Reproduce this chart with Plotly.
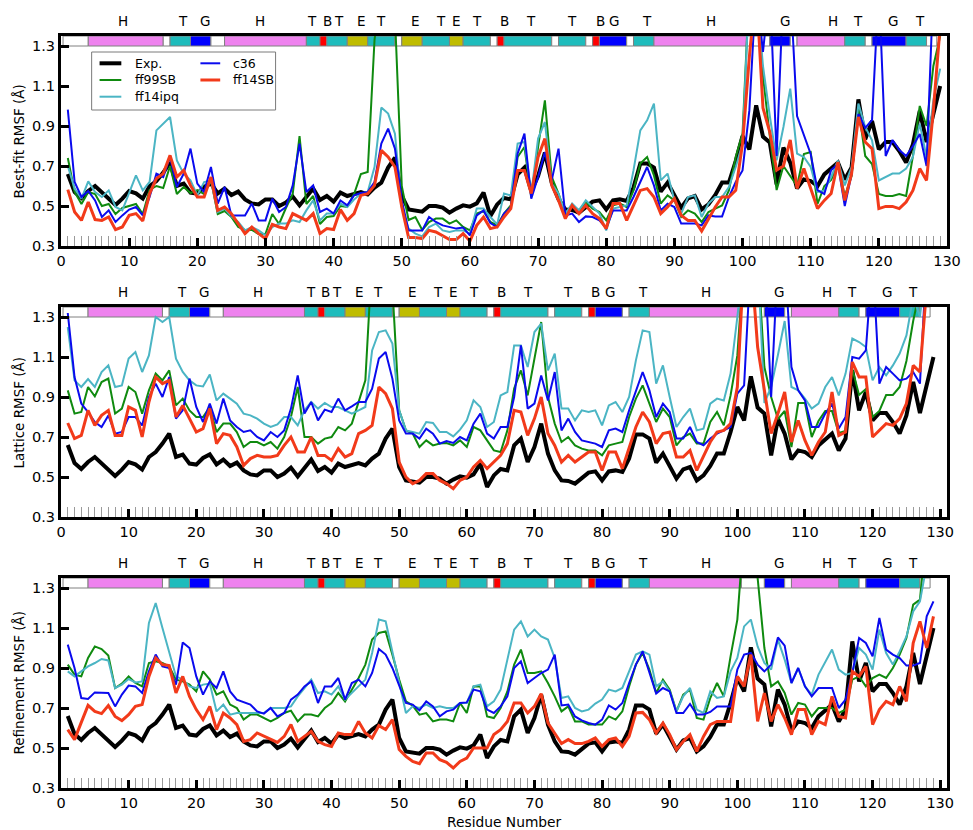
import plotly.graph_objects as go

# ---------------- data ----------------
residues = list(range(1, 130))

exp_rmsf = [0.66, 0.57, 0.54, 0.575, 0.60, 0.567, 0.54, 0.505, 0.537, 0.575,
            0.563, 0.537, 0.60, 0.625, 0.667, 0.717, 0.60, 0.612, 0.567, 0.562,
            0.595, 0.613, 0.563, 0.587, 0.555, 0.572, 0.533, 0.513, 0.508, 0.533,
            0.533, 0.50, 0.517, 0.547, 0.503, 0.547, 0.587, 0.53, 0.55, 0.522,
            0.567, 0.55, 0.558, 0.57, 0.558, 0.592, 0.617, 0.692, 0.742, 0.55,
            0.483, 0.475, 0.472, 0.50, 0.50, 0.492, 0.467, 0.487, 0.503, 0.497,
            0.513, 0.567, 0.45, 0.508, 0.54, 0.533, 0.658, 0.692, 0.575, 0.65,
            0.767, 0.617, 0.533, 0.483, 0.48, 0.467, 0.492, 0.522, 0.528, 0.483,
            0.528, 0.533, 0.525, 0.592, 0.713, 0.713, 0.692, 0.572, 0.617, 0.55,
            0.492, 0.538, 0.55, 0.483, 0.508, 0.555, 0.617, 0.617, 0.725, 0.85,
            0.783, 1.003, 0.847, 0.817, 0.608, 0.792, 0.717, 0.588, 0.633, 0.625,
            0.60, 0.658, 0.687, 0.717, 0.633, 0.692, 1.033, 0.833, 0.925, 0.783,
            0.82, 0.82, 0.775, 0.717, 0.808, 0.975, 0.82, 0.96, 1.10]

# Best-fit RMSF
bf_ff99sb = [0.74, 0.57, 0.51, 0.57, 0.56, 0.50, 0.51, 0.46, 0.49, 0.50,
             0.51, 0.46, 0.58, 0.60, 0.59, 0.70, 0.56, 0.595, 0.565, 0.58,
             0.56, 0.63, 0.46, 0.475, 0.445, 0.395, 0.38, 0.38, 0.36, 0.36,
             0.46, 0.41, 0.49, 0.56, 0.85, 0.51, 0.55, 0.41, 0.445, 0.45,
             0.50, 0.495, 0.56, 0.66, 0.67, 1.33, 1.6, 1.6, 1.45, 0.60,
             0.43, 0.445, 0.38, 0.42, 0.437, 0.437, 0.412, 0.428, 0.395, 0.378,
             0.462, 0.475, 0.42, 0.403, 0.462, 0.503, 0.745, 0.795, 0.545, 0.795,
             1.028, 0.645, 0.562, 0.462, 0.503, 0.478, 0.52, 0.487, 0.47, 0.428,
             0.503, 0.512, 0.495, 0.578, 0.712, 0.745, 0.653, 0.512, 0.553, 0.528,
             0.445, 0.478, 0.462, 0.42, 0.47, 0.487, 0.503, 0.578, 0.745, 0.862,
             1.6, 1.6, 1.15, 0.85, 0.58, 0.70, 0.65, 0.60, 0.76, 0.77,
             0.51, 0.60, 0.63, 0.71, 0.55, 0.65, 0.99, 0.75, 0.71, 0.56,
             0.55, 0.55, 0.56, 0.55, 0.75, 1.00, 0.90, 1.20, 1.35]
bf_ff14ipq = [0.70, 0.587, 0.537, 0.623, 0.57, 0.545, 0.578, 0.495, 0.478, 0.562,
              0.653, 0.578, 0.62, 0.878, 0.912, 0.945, 0.728, 0.662, 0.628, 0.553,
              0.62, 0.628, 0.47, 0.487, 0.448, 0.42, 0.378, 0.395, 0.378, 0.353,
              0.395, 0.412, 0.412, 0.428, 0.42, 0.478, 0.528, 0.428, 0.462, 0.462,
              0.512, 0.495, 0.532, 0.562, 0.57, 0.695, 0.992, 0.962, 0.862, 0.495,
              0.387, 0.362, 0.348, 0.395, 0.412, 0.378, 0.37, 0.378, 0.378, 0.362,
              0.487, 0.487, 0.445, 0.408, 0.562, 0.553, 0.812, 0.82, 0.562, 0.837,
              0.92, 0.612, 0.562, 0.462, 0.512, 0.478, 0.528, 0.495, 0.462, 0.378,
              0.487, 0.495, 0.503, 0.678, 0.878, 0.928, 1.012, 0.628, 0.662, 0.528,
              0.462, 0.545, 0.553, 0.445, 0.512, 0.545, 0.545, 0.595, 0.695, 0.812,
              1.6, 1.6, 1.2, 0.95, 0.728, 0.895, 1.087, 0.762, 0.745, 0.695,
              0.57, 0.578, 0.645, 0.728, 0.603, 0.695, 1.012, 0.895, 0.828, 0.628,
              0.645, 0.662, 0.662, 0.687, 0.745, 0.912, 0.745, 1.028, 1.187]
bf_c36 = [0.982, 0.62, 0.545, 0.575, 0.528, 0.445, 0.478, 0.42, 0.453, 0.482,
          0.495, 0.453, 0.545, 0.662, 0.645, 0.745, 0.595, 0.662, 0.787, 0.612,
          0.57, 0.695, 0.512, 0.595, 0.453, 0.453, 0.453, 0.512, 0.428, 0.428,
          0.537, 0.47, 0.495, 0.603, 0.812, 0.57, 0.603, 0.47, 0.487, 0.462,
          0.528, 0.503, 0.553, 0.565, 0.57, 0.62, 0.812, 0.887, 0.787, 0.528,
          0.378, 0.378, 0.378, 0.445, 0.42, 0.403, 0.395, 0.387, 0.392, 0.353,
          0.453, 0.478, 0.415, 0.395, 0.462, 0.495, 0.762, 0.862, 0.537, 0.645,
          0.77, 0.628, 0.787, 0.453, 0.462, 0.42, 0.448, 0.445, 0.428, 0.39,
          0.478, 0.478, 0.478, 0.545, 0.62, 0.695, 0.603, 0.478, 0.512, 0.495,
          0.412, 0.412, 0.412, 0.403, 0.453, 0.448, 0.448, 0.545, 0.62, 0.678,
          0.978, 1.6, 1.27, 1.6, 0.75, 1.6, 1.6, 0.95, 0.86, 0.76,
          0.58, 0.56, 0.68, 0.71, 0.50, 0.66, 0.96, 0.89, 0.93, 1.6,
          0.75, 0.83, 0.78, 0.75, 0.80, 0.86, 0.70, 1.6, 1.6]
bf_ff14sb = [0.582, 0.47, 0.428, 0.52, 0.432, 0.428, 0.445, 0.382, 0.395, 0.453,
             0.462, 0.425, 0.562, 0.637, 0.662, 0.753, 0.645, 0.678, 0.603, 0.545,
             0.545, 0.645, 0.478, 0.495, 0.462, 0.412, 0.362, 0.395, 0.362, 0.337,
             0.408, 0.395, 0.387, 0.462, 0.445, 0.428, 0.462, 0.362, 0.387, 0.382,
             0.482, 0.428, 0.462, 0.553, 0.562, 0.603, 0.778, 0.745, 0.695, 0.495,
             0.342, 0.342, 0.337, 0.378, 0.37, 0.353, 0.332, 0.332, 0.362, 0.325,
             0.403, 0.445, 0.387, 0.395, 0.445, 0.487, 0.678, 0.678, 0.562, 0.745,
             0.837, 0.603, 0.528, 0.437, 0.503, 0.462, 0.503, 0.462, 0.437, 0.387,
             0.512, 0.512, 0.428, 0.503, 0.578, 0.587, 0.545, 0.462, 0.495, 0.537,
             0.453, 0.428, 0.428, 0.375, 0.437, 0.495, 0.545, 0.545, 0.578, 0.812,
             1.245, 1.6, 0.99, 0.87, 0.68, 0.70, 0.83, 0.587, 0.687, 0.587,
             0.487, 0.528, 0.562, 0.72, 0.528, 0.662, 0.945, 0.82, 0.787, 0.487,
             0.498, 0.498, 0.487, 0.52, 0.578, 0.687, 0.628, 0.978, 1.4]

# Lattice RMSF
lat_ff99sb = [0.933, 0.817, 0.825, 0.95, 0.903, 0.975, 0.992, 0.817, 0.842, 0.95,
              0.925, 0.817, 0.933, 1.017, 0.983, 1.033, 0.858, 0.892, 0.833, 0.80,
              0.80, 0.85, 0.725, 0.767, 0.767, 0.725, 0.65, 0.675, 0.675, 0.658,
              0.675, 0.642, 0.70, 0.80, 0.95, 0.70, 0.70, 0.667, 0.692, 0.70,
              0.75, 0.733, 0.767, 0.875, 0.983, 1.6, 1.6, 1.6, 1.45, 0.833,
              0.733, 0.717, 0.65, 0.683, 0.658, 0.667, 0.67, 0.658, 0.683, 0.65,
              0.75, 0.733, 0.683, 0.633, 0.625, 0.733, 0.942, 1.033, 0.908, 1.10,
              1.275, 0.90, 0.767, 0.675, 0.70, 0.658, 0.642, 0.633, 0.633, 0.608,
              0.658, 0.667, 0.675, 0.80, 0.892, 0.958, 0.867, 0.775, 0.842, 0.80,
              0.658, 0.70, 0.717, 0.667, 0.667, 0.775, 0.825, 0.758, 0.908, 1.108,
              1.6, 1.6, 1.6, 1.05, 0.90, 0.79, 0.83, 0.65, 0.87, 0.87,
              0.70, 0.78, 0.83, 0.83, 0.72, 0.73, 1.04, 0.91, 0.94, 0.80,
              0.83, 0.91, 0.91, 0.95, 1.08, 1.28, 1.45, 1.6, 1.6]
lat_ff14ipq = [1.25, 0.983, 0.95, 0.99, 0.95, 1.025, 1.058, 0.95, 0.958, 1.092,
               1.125, 1.025, 1.108, 1.30, 1.275, 1.30, 1.092, 1.025, 0.983, 0.958,
               0.953, 1.013, 0.883, 0.917, 0.892, 0.867, 0.817, 0.808, 0.792, 0.767,
               0.75, 0.763, 0.80, 0.80, 0.758, 0.833, 0.875, 0.842, 0.87, 0.85,
               0.85, 0.833, 0.817, 0.833, 0.85, 1.133, 1.225, 1.233, 1.167, 0.833,
               0.733, 0.725, 0.717, 0.775, 0.77, 0.725, 0.725, 0.703, 0.737, 0.783,
               0.883, 0.85, 0.75, 0.775, 0.908, 0.925, 1.158, 1.158, 1.05, 1.225,
               1.267, 1.033, 1.117, 0.842, 0.842, 0.783, 0.833, 0.825, 0.833, 0.758,
               0.858, 0.875, 0.825, 0.90, 1.083, 1.233, 1.225, 0.967, 1.058, 0.90,
               0.75, 0.80, 0.842, 0.733, 0.742, 0.867, 0.892, 0.883, 1.017, 1.30,
               1.6, 1.6, 1.6, 0.87, 0.95, 1.11, 1.28, 0.95, 0.933, 0.892,
               0.842, 0.867, 0.95, 1.0, 0.908, 1.017, 1.192, 1.175, 1.15, 0.983,
               1.05, 1.008, 1.058, 1.117, 1.208, 1.4, 1.30, 1.6, 1.6]
lat_c36 = [1.32, 1.0, 0.867, 0.825, 0.775, 0.75, 0.808, 0.717, 0.725, 0.80,
           0.80, 0.758, 0.90, 0.967, 0.90, 1.0, 0.792, 0.833, 0.992, 0.85,
           0.775, 0.867, 0.767, 0.892, 0.783, 0.75, 0.725, 0.733, 0.70, 0.683,
           0.725, 0.70, 0.733, 0.842, 1.008, 0.817, 0.875, 0.783, 0.837, 0.825,
           0.892, 0.833, 0.853, 0.875, 0.875, 0.942, 1.092, 1.125, 0.992, 0.783,
           0.717, 0.717, 0.692, 0.742, 0.717, 0.667, 0.68, 0.67, 0.70, 0.683,
           0.767, 0.817, 0.717, 0.692, 0.75, 0.75, 0.90, 1.158, 0.842, 0.867,
           1.008, 0.883, 1.025, 0.733, 0.792, 0.725, 0.683, 0.675, 0.667, 0.65,
           0.733, 0.742, 0.725, 0.833, 0.925, 1.025, 0.933, 0.80, 0.867, 0.825,
           0.692, 0.692, 0.75, 0.675, 0.658, 0.692, 0.717, 0.733, 0.75, 0.917,
           0.958, 1.6, 1.6, 1.6, 0.90, 1.6, 1.6, 1.05, 0.933, 0.883,
           0.75, 0.75, 0.817, 0.867, 0.742, 0.80, 1.10, 1.092, 1.133, 1.6,
           0.967, 1.05, 1.017, 0.983, 0.992, 1.025, 0.967, 1.6, 1.6]
lat_ff14sb = [0.77, 0.692, 0.708, 0.833, 0.758, 0.808, 0.833, 0.708, 0.708, 0.85,
              0.833, 0.70, 0.875, 1.0, 0.967, 0.983, 0.80, 0.858, 0.792, 0.725,
              0.742, 0.842, 0.667, 0.717, 0.708, 0.65, 0.558, 0.592, 0.608, 0.60,
              0.60, 0.608, 0.658, 0.70, 0.625, 0.625, 0.70, 0.608, 0.608, 0.583,
              0.642, 0.60, 0.617, 0.717, 0.733, 0.758, 0.95, 0.917, 0.842, 0.575,
              0.50, 0.467, 0.483, 0.517, 0.517, 0.483, 0.467, 0.442, 0.483, 0.50,
              0.55, 0.583, 0.542, 0.575, 0.608, 0.667, 0.833, 0.825, 0.708, 0.792,
              0.90, 0.717, 0.658, 0.575, 0.608, 0.575, 0.60, 0.625, 0.625, 0.533,
              0.625, 0.625, 0.542, 0.65, 0.75, 0.825, 0.775, 0.667, 0.717, 0.725,
              0.60, 0.60, 0.633, 0.533, 0.60, 0.675, 0.725, 0.733, 0.767, 0.95,
              1.6, 1.6, 1.15, 0.94, 0.717, 0.817, 0.925, 0.675, 0.783, 0.683,
              0.608, 0.675, 0.725, 0.925, 0.708, 0.725, 1.075, 1.0, 1.0, 0.70,
              0.733, 0.767, 0.758, 0.792, 0.867, 1.058, 1.025, 1.45, 1.6]

# Refinement RMSF
ref_ff99sb = [0.917, 0.867, 0.858, 0.95, 1.008, 0.995, 0.962, 0.80, 0.822, 0.858,
              0.825, 0.808, 0.925, 0.933, 0.925, 0.908, 0.842, 0.833, 0.817, 0.783,
              0.883, 0.842, 0.767, 0.783, 0.717, 0.70, 0.642, 0.667, 0.667, 0.65,
              0.633, 0.65, 0.675, 0.687, 0.633, 0.667, 0.667, 0.658, 0.70, 0.725,
              0.775, 0.733, 0.792, 0.85, 0.917, 1.042, 1.075, 1.083, 0.967, 0.842,
              0.733, 0.712, 0.667, 0.675, 0.633, 0.642, 0.642, 0.633, 0.725, 0.675,
              0.808, 0.808, 0.658, 0.65, 0.70, 0.783, 0.917, 0.992, 0.875, 0.875,
              0.883, 0.825, 0.758, 0.683, 0.708, 0.633, 0.633, 0.617, 0.617, 0.617,
              0.658, 0.642, 0.683, 0.808, 0.917, 0.975, 0.892, 0.775, 0.842, 0.792,
              0.683, 0.767, 0.792, 0.65, 0.642, 0.75, 0.825, 0.758, 0.958, 1.142,
              1.6, 1.6, 1.35, 1.0, 0.808, 0.833, 0.775, 0.667, 0.725, 0.717,
              0.658, 0.70, 0.70, 0.70, 0.675, 0.692, 0.842, 0.858, 0.808, 0.85,
              0.867, 0.85, 0.90, 0.967, 1.05, 1.217, 1.242, 1.6, 1.6]
ref_ff14ipq = [0.883, 0.858, 0.883, 0.908, 0.925, 0.945, 0.938, 0.80, 0.817, 0.845,
               0.828, 0.833, 1.125, 1.225, 1.10, 0.975, 0.858, 0.842, 0.808, 0.80,
               0.817, 0.822, 0.683, 0.717, 0.667, 0.675, 0.675, 0.675, 0.675, 0.675,
               0.70, 0.70, 0.70, 0.708, 0.758, 0.80, 0.842, 0.775, 0.783, 0.767,
               0.808, 0.742, 0.775, 0.808, 0.842, 0.975, 1.142, 1.133, 0.983, 0.842,
               0.675, 0.708, 0.70, 0.717, 0.70, 0.708, 0.70, 0.70, 0.725, 0.725,
               0.808, 0.817, 0.708, 0.733, 0.792, 0.942, 1.092, 1.133, 1.058, 1.092,
               1.058, 1.042, 0.95, 0.75, 0.758, 0.70, 0.683, 0.692, 0.722, 0.742,
               0.792, 0.783, 0.80, 0.883, 0.967, 0.983, 0.967, 0.808, 0.833, 0.783,
               0.683, 0.758, 0.80, 0.692, 0.675, 0.783, 0.75, 0.758, 0.883, 0.95,
               1.108, 1.142, 1.008, 0.925, 0.892, 1.042, 0.942, 0.825, 0.90, 0.808,
               0.767, 0.867, 0.933, 0.992, 0.892, 0.867, 0.875, 1.0, 0.967, 0.892,
               1.092, 0.975, 0.917, 0.983, 1.058, 1.183, 1.233, 1.4, 1.6]
ref_c36 = [1.017, 0.90, 0.75, 0.745, 0.778, 0.778, 0.775, 0.708, 0.767, 0.812,
           0.808, 0.775, 0.883, 0.967, 0.908, 0.90, 0.817, 1.028, 1.0, 0.858,
           0.767, 0.833, 0.80, 0.883, 0.783, 0.742, 0.73, 0.717, 0.683, 0.672,
           0.70, 0.658, 0.675, 0.742, 0.767, 0.808, 0.833, 0.725, 0.808, 0.808,
           0.85, 0.742, 0.825, 0.842, 0.808, 0.875, 0.995, 0.967, 0.90, 0.808,
           0.725, 0.717, 0.688, 0.733, 0.708, 0.658, 0.683, 0.692, 0.725, 0.728,
           0.792, 0.783, 0.692, 0.675, 0.708, 0.758, 0.90, 0.933, 0.825, 0.85,
           0.875, 0.892, 0.967, 0.713, 0.717, 0.658, 0.638, 0.625, 0.617, 0.642,
           0.713, 0.692, 0.725, 0.825, 0.917, 0.983, 0.875, 0.772, 0.80, 0.783,
           0.675, 0.675, 0.72, 0.667, 0.667, 0.68, 0.708, 0.708, 0.708, 0.892,
           0.967, 0.975, 0.917, 0.883, 0.917, 1.053, 1.012, 0.825, 0.90, 0.808,
           0.758, 0.80, 0.80, 0.80, 0.70, 0.742, 0.875, 1.05, 1.025, 0.958,
           1.15, 0.992, 0.967, 0.95, 0.912, 0.912, 0.925, 1.158, 1.233]
ref_ff14sb = [0.592, 0.542, 0.628, 0.713, 0.683, 0.672, 0.712, 0.658, 0.637, 0.667,
              0.708, 0.717, 0.858, 0.95, 0.917, 0.912, 0.775, 0.858, 0.758, 0.692,
              0.642, 0.708, 0.592, 0.675, 0.65, 0.617, 0.533, 0.542, 0.575, 0.558,
              0.545, 0.528, 0.558, 0.617, 0.533, 0.558, 0.583, 0.533, 0.517, 0.508,
              0.575, 0.567, 0.567, 0.633, 0.575, 0.55, 0.612, 0.592, 0.642, 0.492,
              0.458, 0.433, 0.422, 0.475, 0.475, 0.442, 0.428, 0.40, 0.433, 0.45,
              0.50, 0.50, 0.50, 0.567, 0.592, 0.633, 0.725, 0.725, 0.675, 0.708,
              0.772, 0.625, 0.575, 0.522, 0.542, 0.522, 0.522, 0.533, 0.55, 0.508,
              0.542, 0.55, 0.508, 0.558, 0.675, 0.678, 0.642, 0.575, 0.625, 0.567,
              0.492, 0.533, 0.567, 0.483, 0.558, 0.617, 0.633, 0.633, 0.633, 0.858,
              0.808, 0.967, 0.633, 0.775, 0.633, 0.717, 0.65, 0.567, 0.692, 0.692,
              0.567, 0.633, 0.617, 0.758, 0.658, 0.65, 0.883, 0.858, 0.908, 0.617,
              0.692, 0.733, 0.717, 0.808, 0.733, 1.025, 1.133, 1.0, 1.158]

series_names = ["Exp.", "ff99SB", "ff14ipq", "c36", "ff14SB"]
panel_titles = ["Best-fit RMSF (Å)", "Lattice RMSF (Å)", "Refinement RMSF (Å)"]
panel_series = [
    [exp_rmsf, bf_ff99sb, bf_ff14ipq, bf_c36, bf_ff14sb],
    [exp_rmsf, lat_ff99sb, lat_ff14ipq, lat_c36, lat_ff14sb],
    [exp_rmsf, ref_ff99sb, ref_ff14ipq, ref_c36, ref_ff14sb],
]

# secondary structure (DSSP) segments along the residue axis
ss_code = ["C", "H", "C", "T", "G", "C", "H", "T", "B", "T", "E", "T", "C", "E", "T", "E",
           "T", "C", "B", "T", "C", "T", "C", "B", "G", "C", "T", "H", "C", "G", "C", "H",
           "T", "C", "G", "T", "C"]
ss_start = [0.3, 4, 15, 16, 19, 22, 24, 36, 38, 39, 42, 45, 49, 50, 53, 57,
            59, 63, 64, 65, 72, 73, 77, 78, 79, 83, 84, 87, 100.6, 104, 107, 108,
            115, 118, 119, 124, 127]
ss_end = [4, 15, 16, 19, 22, 24, 36, 38, 39, 42, 45, 49, 50, 53, 57, 59,
          63, 64, 65, 72, 73, 77, 78, 79, 83, 84, 87, 100.6, 104, 107, 108, 115,
          118, 119, 124, 127, 128.5]
ss_label_text = ["H", "T", "G", "H", "T", "B", "T", "E", "T", "E", "T", "E", "T",
                 "B", "T", "T", "B", "G", "T", "H", "G", "H", "T", "G", "T"]
ss_label_res = [9.1, 17.9, 21.1, 29.2, 36.9, 39.1, 40.8, 44.1, 46.9, 52.0, 55.8, 58.1, 61.0,
                65.1, 69.0, 75.0, 79.1, 81.2, 86.0, 95.3, 106.2, 113.3, 117.0, 122.1, 126.0]

# ---------------- styles ----------------
series_colors = ["#000000", "#0f8a0f", "#4bb5c4", "#0a0aee", "#f23a1a"]
series_widths = [4, 2, 2, 2, 3]
ss_colors = {"C": "#ffffff", "H": "#ee82ee", "T": "#1ebcbc", "G": "#0000ff",
             "B": "#ff0000", "E": "#bfbc00"}
FONT = "DejaVu Sans"

W, H = 973, 830
ML, MR, MT, MB = 61, 16, 36, 42
PW, PH = W - ML - MR, H - MT - MB
panel_top_px = [36, 307, 578]
panel_h_px = 210
x_max = [130, 131, 131]
y_range = [0.3, 1.35]


def px_x(px):
    return (px - ML) / PW


def px_y(py):
    return (H - MB - py) / PH


fig = go.Figure()
layout = {}
shapes = []
annotations = []

for i in range(3):
    n = i + 1
    xa = "x" if n == 1 else f"x{n}"
    ya = "y" if n == 1 else f"y{n}"
    for name, vals, col, lw in zip(series_names, panel_series[i], series_colors, series_widths):
        fig.add_trace(go.Scatter(x=residues, y=vals, mode="lines", name=name,
                                 line=dict(color=col, width=lw), showlegend=False,
                                 xaxis=xa, yaxis=ya, hoverinfo="skip"))
    top = panel_top_px[i]
    bot = top + panel_h_px
    layout[("xaxis" if n == 1 else f"xaxis{n}")] = dict(
        domain=[0, 1], anchor=ya, range=[0, x_max[i]],
        tickmode="linear", tick0=0, dtick=10,
        ticks="inside", ticklen=8, tickwidth=3, tickcolor="black",
        showline=True, linewidth=3, linecolor="black", mirror=True,
        showgrid=False, zeroline=False,
        minor=dict(ticks="inside", tick0=0, dtick=1, ticklen=10, tickwidth=1,
                   tickcolor="#9a9a9a", showgrid=False),
        tickfont=dict(family=FONT, size=14.5, color="black"),
    )
    layout[("yaxis" if n == 1 else f"yaxis{n}")] = dict(
        domain=[px_y(bot), px_y(top)], anchor=xa, range=y_range,
        tickvals=[0.3, 0.5, 0.7, 0.9, 1.1, 1.3],
        ticktext=["0.3", "0.5", "0.7", "0.9", "1.1", "1.3"],
        ticks="inside", ticklen=8, tickwidth=3, tickcolor="black",
        showline=True, linewidth=3, linecolor="black", mirror=True,
        showgrid=False, zeroline=False,
        tickfont=dict(family=FONT, size=14.5, color="black"),
    )
    # secondary structure strip
    for code, s, e in zip(ss_code, ss_start, ss_end):
        shapes.append(dict(type="rect", xref=xa, yref=ya, x0=s, x1=e, y0=1.3, y1=1.35,
                           fillcolor=ss_colors[code], line=dict(color="#808080", width=1),
                           layer="below"))
    for txt, r in zip(ss_label_text, ss_label_res):
        annotations.append(dict(text=txt, x=r, y=1.35, xref=xa, yref=ya, showarrow=False,
                                yanchor="middle", yshift=15,
                                font=dict(family=FONT, size=13.5, color="black")))
    # y-axis title
    annotations.append(dict(text=panel_titles[i], x=px_x(19), y=px_y((top + bot) / 2),
                            xref="paper", yref="paper", showarrow=False, textangle=-90,
                            xanchor="center", yanchor="middle",
                            font=dict(family=FONT, size=13.5, color="black")))

# x-axis title
annotations.append(dict(text="Residue Number", x=px_x(509), y=px_y(822), xref="paper",
                        yref="paper", showarrow=False, xanchor="center", yanchor="middle",
                        font=dict(family=FONT, size=13.8, color="black")))

# legend (two columns, column-major like the original)
shapes.append(dict(type="rect", xref="paper", yref="paper", x0=px_x(92), x1=px_x(278),
                   y0=px_y(110), y1=px_y(52), fillcolor="white",
                   line=dict(color="#7a7a7a", width=1), layer="above"))
col_line_x = [(100, 122), (202, 222)]
col_text_x = [134, 233]
row_y = [63.3, 80, 96.7]
for k, (name, col, lw) in enumerate(zip(series_names, series_colors, series_widths)):
    c, r = k // 3, k % 3
    shapes.append(dict(type="line", xref="paper", yref="paper",
                       x0=px_x(col_line_x[c][0]), x1=px_x(col_line_x[c][1]),
                       y0=px_y(row_y[r]), y1=px_y(row_y[r]),
                       line=dict(color=col, width=lw), layer="above"))
    annotations.append(dict(text=name, x=px_x(col_text_x[c]), y=px_y(row_y[r]),
                            xref="paper", yref="paper", showarrow=False,
                            xanchor="left", yanchor="middle",
                            font=dict(family=FONT, size=12.5, color="black")))

fig.update_layout(
    width=W, height=H,
    margin=dict(l=ML, r=MR, t=MT, b=MB),
    plot_bgcolor="white", paper_bgcolor="white",
    showlegend=False,
    font=dict(family=FONT, color="black"),
    shapes=shapes, annotations=annotations,
    **layout,
)

fig.write_html("out.html")
